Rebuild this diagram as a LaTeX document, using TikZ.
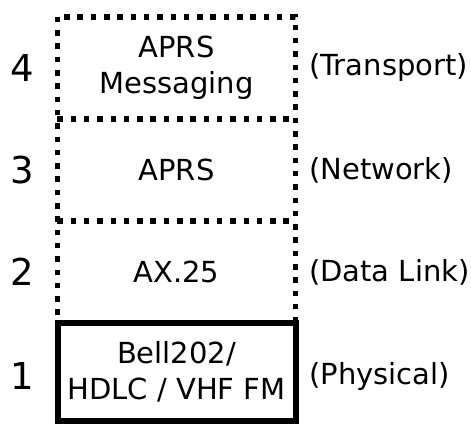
\documentclass[tikz,border=0pt]{standalone}
\usepackage{fontspec}
\setmainfont{DejaVu Sans}
\begin{document}
\begin{tikzpicture}[x=1pt, y=-1pt, font=\fontsize{29}{36}\selectfont, line join=miter]
		\tikzset{
			layer/.style={minimum width=238pt, minimum height=102pt, inner sep=0pt, align=center},
			dots/.style={line width=5.5pt, dash pattern=on 5.5pt off 7.8pt},
			num/.style={font=\fontsize{37}{40}\selectfont},
			role/.style={anchor=west, inner sep=0pt}
		}
		\useasboundingbox (0,0) rectangle (471,424);
		\node[layer] (l4) at (176.5,68) {APRS\\Messaging};
		\node[layer] (l3) at (176.5,170) {APRS};
		\node[layer] (l2) at (176.5,272) {AX.25};
		\node[layer, draw, minimum height=98pt, line width=6pt] (l1) at (176.5,372) {Bell202/\\HDLC / VHF FM};
		% dotted outline of the upper three layers
		\draw[dots] (l4.north west) rectangle (l2.south east);
		\draw[dots] (l4.south west) -- (l4.south east);
		\draw[dots] (l3.south west) -- (l3.south east);
		\node[num] (n4) at (22,68) {4};
		\node[num] (n3) at (22,170) {3};
		\node[num] (n2) at (22,272) {2};
		\node[num] (n1) at (22,376) {1};
		\node[role] (r4) at (309,68) {(Transport)};
		\node[role] (r3) at (309,170) {(Network)};
		\node[role] (r2) at (309,272) {(Data Link)};
		\node[role] (r1) at (309,376) {(Physical)};
\end{tikzpicture}
\end{document}
